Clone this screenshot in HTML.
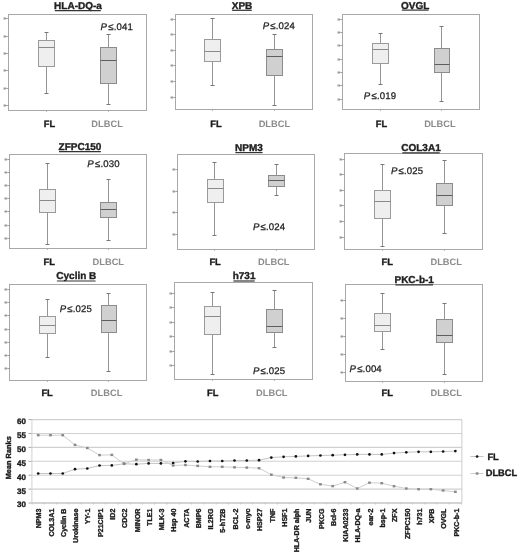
<!DOCTYPE html><html><head><meta charset="utf-8"><style>html,body{margin:0;padding:0;background:#fff;width:520px;height:552px;overflow:hidden}svg{display:block;filter:grayscale(1) blur(0.3px)}text{font-family:"Liberation Sans",sans-serif;text-rendering:geometricPrecision}.h{stroke:#1a1a1a;stroke-width:0.35px}.hg{stroke:#8c8c8c;stroke-width:0.3px}.hp{stroke:#222;stroke-width:0.25px}</style></head><body>
<svg width="520" height="552" viewBox="0 0 520 552">
<rect width="520" height="552" fill="#fff"/>
<rect x="8.5" y="14.5" width="138" height="96" fill="none" stroke="#a8a8a8" stroke-width="1"/>
<line x1="6.3" y1="18.5" x2="8.5" y2="18.5" stroke="#888" stroke-width="0.8"/>
<rect x="3.5" y="17.5" width="2.6" height="2" fill="#9c9c9c"/>
<line x1="6.3" y1="36.5" x2="8.5" y2="36.5" stroke="#888" stroke-width="0.8"/>
<rect x="3.5" y="35.5" width="2.6" height="2" fill="#9c9c9c"/>
<line x1="6.3" y1="53.5" x2="8.5" y2="53.5" stroke="#888" stroke-width="0.8"/>
<rect x="3.5" y="52.5" width="2.6" height="2" fill="#9c9c9c"/>
<line x1="6.3" y1="70.5" x2="8.5" y2="70.5" stroke="#888" stroke-width="0.8"/>
<rect x="3.5" y="69.5" width="2.6" height="2" fill="#9c9c9c"/>
<line x1="6.3" y1="88.5" x2="8.5" y2="88.5" stroke="#888" stroke-width="0.8"/>
<rect x="3.5" y="87.5" width="2.6" height="2" fill="#9c9c9c"/>
<line x1="6.3" y1="105.5" x2="8.5" y2="105.5" stroke="#888" stroke-width="0.8"/>
<rect x="3.5" y="104.5" width="2.6" height="2" fill="#9c9c9c"/>
<text x="78" y="9" font-size="10" font-weight="bold" fill="#222" text-anchor="middle" class="h">HLA-DQ-a</text>
<line x1="54.8" y1="10.7" x2="100.8" y2="10.7" stroke="#333" stroke-width="1.2"/>
<line x1="46.5" y1="32.5" x2="46.5" y2="93.5" stroke="#959595" stroke-width="1"/>
<line x1="44.5" y1="32.5" x2="48.5" y2="32.5" stroke="#777" stroke-width="1"/>
<line x1="44.5" y1="93.5" x2="48.5" y2="93.5" stroke="#777" stroke-width="1"/>
<rect x="38.5" y="40.5" width="16" height="26" fill="#efefef" stroke="#9a9a9a" stroke-width="1"/>
<line x1="38.5" y1="47.5" x2="54.5" y2="47.5" stroke="#8a8a8a" stroke-width="1"/>
<line x1="46.5" y1="110.5" x2="46.5" y2="112" stroke="#aaa" stroke-width="0.8"/>
<line x1="108.5" y1="34.5" x2="108.5" y2="104.5" stroke="#959595" stroke-width="1"/>
<line x1="106.5" y1="34.5" x2="110.5" y2="34.5" stroke="#777" stroke-width="1"/>
<line x1="106.5" y1="104.5" x2="110.5" y2="104.5" stroke="#777" stroke-width="1"/>
<rect x="100.5" y="47.5" width="16" height="36" fill="#d0d0d0" stroke="#8c8c8c" stroke-width="1"/>
<line x1="100.5" y1="60.5" x2="116.5" y2="60.5" stroke="#5e5e5e" stroke-width="1"/>
<line x1="108.5" y1="110.5" x2="108.5" y2="112" stroke="#aaa" stroke-width="0.8"/>
<text x="49.4" y="126.65" font-size="9.3" font-weight="bold" fill="#1a1a1a" text-anchor="middle" class="h">FL</text>
<text x="107.1" y="126.65" font-size="9.3" font-weight="bold" fill="#8c8c8c" text-anchor="middle">DLBCL</text>
<text x="100.6" y="29.75" font-size="9.6" fill="#1a1a1a" letter-spacing="0.15" class="hp"><tspan font-style="italic">P</tspan><tspan dx="1.1">≤</tspan>.041</text>
<rect x="175.5" y="14.5" width="137" height="95" fill="none" stroke="#a8a8a8" stroke-width="1"/>
<line x1="173.3" y1="19.5" x2="175.5" y2="19.5" stroke="#888" stroke-width="0.8"/>
<rect x="170.5" y="18.5" width="2.6" height="2" fill="#9c9c9c"/>
<line x1="173.3" y1="34.5" x2="175.5" y2="34.5" stroke="#888" stroke-width="0.8"/>
<rect x="170.5" y="33.5" width="2.6" height="2" fill="#9c9c9c"/>
<line x1="173.3" y1="50.5" x2="175.5" y2="50.5" stroke="#888" stroke-width="0.8"/>
<rect x="170.5" y="49.5" width="2.6" height="2" fill="#9c9c9c"/>
<line x1="173.3" y1="65.5" x2="175.5" y2="65.5" stroke="#888" stroke-width="0.8"/>
<rect x="170.5" y="64.5" width="2.6" height="2" fill="#9c9c9c"/>
<line x1="173.3" y1="81.5" x2="175.5" y2="81.5" stroke="#888" stroke-width="0.8"/>
<rect x="170.5" y="80.5" width="2.6" height="2" fill="#9c9c9c"/>
<line x1="173.3" y1="97.5" x2="175.5" y2="97.5" stroke="#888" stroke-width="0.8"/>
<rect x="170.5" y="96.5" width="2.6" height="2" fill="#9c9c9c"/>
<text x="242" y="8.8" font-size="10" font-weight="bold" fill="#222" text-anchor="middle" class="h">XPB</text>
<line x1="232.1" y1="10.3" x2="251.8" y2="10.3" stroke="#333" stroke-width="1.2"/>
<line x1="212.5" y1="18.5" x2="212.5" y2="85.5" stroke="#959595" stroke-width="1"/>
<line x1="210.5" y1="18.5" x2="214.5" y2="18.5" stroke="#777" stroke-width="1"/>
<line x1="210.5" y1="85.5" x2="214.5" y2="85.5" stroke="#777" stroke-width="1"/>
<rect x="204.5" y="39.5" width="16" height="22" fill="#efefef" stroke="#9a9a9a" stroke-width="1"/>
<line x1="204.5" y1="51.5" x2="220.5" y2="51.5" stroke="#8a8a8a" stroke-width="1"/>
<line x1="212.5" y1="109.5" x2="212.5" y2="111" stroke="#aaa" stroke-width="0.8"/>
<line x1="274.5" y1="34.5" x2="274.5" y2="105.5" stroke="#959595" stroke-width="1"/>
<line x1="272.5" y1="34.5" x2="276.5" y2="34.5" stroke="#777" stroke-width="1"/>
<line x1="272.5" y1="105.5" x2="276.5" y2="105.5" stroke="#777" stroke-width="1"/>
<rect x="266.5" y="49.5" width="16" height="26" fill="#d0d0d0" stroke="#8c8c8c" stroke-width="1"/>
<line x1="266.5" y1="56.5" x2="282.5" y2="56.5" stroke="#5e5e5e" stroke-width="1"/>
<line x1="274.5" y1="109.5" x2="274.5" y2="111" stroke="#aaa" stroke-width="0.8"/>
<text x="215.9" y="126.65" font-size="9.3" font-weight="bold" fill="#1a1a1a" text-anchor="middle" class="h">FL</text>
<text x="274.4" y="126.65" font-size="9.3" font-weight="bold" fill="#8c8c8c" text-anchor="middle">DLBCL</text>
<text x="262.7" y="29.45" font-size="9.6" fill="#1a1a1a" letter-spacing="0.15" class="hp"><tspan font-style="italic">P</tspan><tspan dx="1.1">≤</tspan>.024</text>
<rect x="342.5" y="14.5" width="137" height="95" fill="none" stroke="#a8a8a8" stroke-width="1"/>
<line x1="340.3" y1="19.5" x2="342.5" y2="19.5" stroke="#888" stroke-width="0.8"/>
<rect x="337.5" y="18.5" width="2.6" height="2" fill="#9c9c9c"/>
<line x1="340.3" y1="32.5" x2="342.5" y2="32.5" stroke="#888" stroke-width="0.8"/>
<rect x="337.5" y="31.5" width="2.6" height="2" fill="#9c9c9c"/>
<line x1="340.3" y1="45.5" x2="342.5" y2="45.5" stroke="#888" stroke-width="0.8"/>
<rect x="337.5" y="44.5" width="2.6" height="2" fill="#9c9c9c"/>
<line x1="340.3" y1="59.5" x2="342.5" y2="59.5" stroke="#888" stroke-width="0.8"/>
<rect x="337.5" y="58.5" width="2.6" height="2" fill="#9c9c9c"/>
<line x1="340.3" y1="72.5" x2="342.5" y2="72.5" stroke="#888" stroke-width="0.8"/>
<rect x="337.5" y="71.5" width="2.6" height="2" fill="#9c9c9c"/>
<line x1="340.3" y1="85.5" x2="342.5" y2="85.5" stroke="#888" stroke-width="0.8"/>
<rect x="337.5" y="84.5" width="2.6" height="2" fill="#9c9c9c"/>
<line x1="340.3" y1="99.5" x2="342.5" y2="99.5" stroke="#888" stroke-width="0.8"/>
<rect x="337.5" y="98.5" width="2.6" height="2" fill="#9c9c9c"/>
<text x="415.2" y="8.6" font-size="10" font-weight="bold" fill="#222" text-anchor="middle" class="h">OVGL</text>
<line x1="401.8" y1="10.1" x2="428.6" y2="10.1" stroke="#333" stroke-width="1.2"/>
<line x1="380.5" y1="33.5" x2="380.5" y2="84.5" stroke="#959595" stroke-width="1"/>
<line x1="378.5" y1="33.5" x2="382.5" y2="33.5" stroke="#777" stroke-width="1"/>
<line x1="378.5" y1="84.5" x2="382.5" y2="84.5" stroke="#777" stroke-width="1"/>
<rect x="372.5" y="43.5" width="16" height="20" fill="#efefef" stroke="#9a9a9a" stroke-width="1"/>
<line x1="372.5" y1="49.5" x2="388.5" y2="49.5" stroke="#8a8a8a" stroke-width="1"/>
<line x1="380.5" y1="109.5" x2="380.5" y2="111" stroke="#aaa" stroke-width="0.8"/>
<line x1="441.5" y1="26.5" x2="441.5" y2="101.5" stroke="#959595" stroke-width="1"/>
<line x1="439.5" y1="26.5" x2="443.5" y2="26.5" stroke="#777" stroke-width="1"/>
<line x1="439.5" y1="101.5" x2="443.5" y2="101.5" stroke="#777" stroke-width="1"/>
<rect x="434.5" y="48.5" width="15" height="24" fill="#d0d0d0" stroke="#8c8c8c" stroke-width="1"/>
<line x1="434.5" y1="64.5" x2="449.5" y2="64.5" stroke="#5e5e5e" stroke-width="1"/>
<line x1="441.5" y1="109.5" x2="441.5" y2="111" stroke="#aaa" stroke-width="0.8"/>
<text x="381.4" y="126.65" font-size="9.3" font-weight="bold" fill="#1a1a1a" text-anchor="middle" class="h">FL</text>
<text x="439.9" y="126.65" font-size="9.3" font-weight="bold" fill="#8c8c8c" text-anchor="middle">DLBCL</text>
<text x="363.8" y="98.75" font-size="9.6" fill="#1a1a1a" letter-spacing="0.15" class="hp"><tspan font-style="italic">P</tspan><tspan dx="1.1">≤</tspan>.019</text>
<rect x="9.5" y="154.5" width="137" height="94" fill="none" stroke="#a8a8a8" stroke-width="1"/>
<line x1="7.3" y1="159.5" x2="9.5" y2="159.5" stroke="#888" stroke-width="0.8"/>
<rect x="4.5" y="158.5" width="2.6" height="2" fill="#9c9c9c"/>
<line x1="7.3" y1="172.5" x2="9.5" y2="172.5" stroke="#888" stroke-width="0.8"/>
<rect x="4.5" y="171.5" width="2.6" height="2" fill="#9c9c9c"/>
<line x1="7.3" y1="185.5" x2="9.5" y2="185.5" stroke="#888" stroke-width="0.8"/>
<rect x="4.5" y="184.5" width="2.6" height="2" fill="#9c9c9c"/>
<line x1="7.3" y1="198.5" x2="9.5" y2="198.5" stroke="#888" stroke-width="0.8"/>
<rect x="4.5" y="197.5" width="2.6" height="2" fill="#9c9c9c"/>
<line x1="7.3" y1="211.5" x2="9.5" y2="211.5" stroke="#888" stroke-width="0.8"/>
<rect x="4.5" y="210.5" width="2.6" height="2" fill="#9c9c9c"/>
<line x1="7.3" y1="225.5" x2="9.5" y2="225.5" stroke="#888" stroke-width="0.8"/>
<rect x="4.5" y="224.5" width="2.6" height="2" fill="#9c9c9c"/>
<line x1="7.3" y1="238.5" x2="9.5" y2="238.5" stroke="#888" stroke-width="0.8"/>
<rect x="4.5" y="237.5" width="2.6" height="2" fill="#9c9c9c"/>
<text x="80" y="149.5" font-size="10" font-weight="bold" fill="#222" text-anchor="middle" class="h">ZFPC150</text>
<line x1="59" y1="151.7" x2="100.9" y2="151.7" stroke="#333" stroke-width="1.2"/>
<line x1="47.5" y1="163.5" x2="47.5" y2="244.5" stroke="#959595" stroke-width="1"/>
<line x1="45.5" y1="163.5" x2="49.5" y2="163.5" stroke="#777" stroke-width="1"/>
<line x1="45.5" y1="244.5" x2="49.5" y2="244.5" stroke="#777" stroke-width="1"/>
<rect x="39.5" y="189.5" width="16" height="23" fill="#efefef" stroke="#9a9a9a" stroke-width="1"/>
<line x1="39.5" y1="200.5" x2="55.5" y2="200.5" stroke="#8a8a8a" stroke-width="1"/>
<line x1="47.5" y1="248.5" x2="47.5" y2="250" stroke="#aaa" stroke-width="0.8"/>
<line x1="108.5" y1="179.5" x2="108.5" y2="240.5" stroke="#959595" stroke-width="1"/>
<line x1="106.5" y1="179.5" x2="110.5" y2="179.5" stroke="#777" stroke-width="1"/>
<line x1="106.5" y1="240.5" x2="110.5" y2="240.5" stroke="#777" stroke-width="1"/>
<rect x="100.5" y="202.5" width="16" height="15" fill="#d0d0d0" stroke="#8c8c8c" stroke-width="1"/>
<line x1="100.5" y1="209.5" x2="116.5" y2="209.5" stroke="#5e5e5e" stroke-width="1"/>
<line x1="108.5" y1="248.5" x2="108.5" y2="250" stroke="#aaa" stroke-width="0.8"/>
<text x="49.3" y="264.65" font-size="9.3" font-weight="bold" fill="#1a1a1a" text-anchor="middle" class="h">FL</text>
<text x="108.3" y="264.65" font-size="9.3" font-weight="bold" fill="#8c8c8c" text-anchor="middle">DLBCL</text>
<text x="87.3" y="167.15" font-size="9.6" fill="#1a1a1a" letter-spacing="0.15" class="hp"><tspan font-style="italic">P</tspan><tspan dx="1.1">≤</tspan>.030</text>
<rect x="177.5" y="154.5" width="137" height="95" fill="none" stroke="#a8a8a8" stroke-width="1"/>
<line x1="175.3" y1="169.5" x2="177.5" y2="169.5" stroke="#888" stroke-width="0.8"/>
<rect x="172.5" y="168.5" width="2.6" height="2" fill="#9c9c9c"/>
<line x1="175.3" y1="191.5" x2="177.5" y2="191.5" stroke="#888" stroke-width="0.8"/>
<rect x="172.5" y="190.5" width="2.6" height="2" fill="#9c9c9c"/>
<line x1="175.3" y1="212.5" x2="177.5" y2="212.5" stroke="#888" stroke-width="0.8"/>
<rect x="172.5" y="211.5" width="2.6" height="2" fill="#9c9c9c"/>
<line x1="175.3" y1="234.5" x2="177.5" y2="234.5" stroke="#888" stroke-width="0.8"/>
<rect x="172.5" y="233.5" width="2.6" height="2" fill="#9c9c9c"/>
<text x="249" y="150.5" font-size="10" font-weight="bold" fill="#222" text-anchor="middle" class="h">NPM3</text>
<line x1="235.4" y1="152.6" x2="262.6" y2="152.6" stroke="#333" stroke-width="1.2"/>
<line x1="214.5" y1="162.5" x2="214.5" y2="235.5" stroke="#959595" stroke-width="1"/>
<line x1="212.5" y1="162.5" x2="216.5" y2="162.5" stroke="#777" stroke-width="1"/>
<line x1="212.5" y1="235.5" x2="216.5" y2="235.5" stroke="#777" stroke-width="1"/>
<rect x="207.5" y="179.5" width="16" height="23" fill="#efefef" stroke="#9a9a9a" stroke-width="1"/>
<line x1="207.5" y1="188.5" x2="223.5" y2="188.5" stroke="#8a8a8a" stroke-width="1"/>
<line x1="214.5" y1="249.5" x2="214.5" y2="251" stroke="#aaa" stroke-width="0.8"/>
<line x1="276.5" y1="164.5" x2="276.5" y2="195.5" stroke="#959595" stroke-width="1"/>
<line x1="274.5" y1="164.5" x2="278.5" y2="164.5" stroke="#777" stroke-width="1"/>
<line x1="274.5" y1="195.5" x2="278.5" y2="195.5" stroke="#777" stroke-width="1"/>
<rect x="268.5" y="175.5" width="16" height="11" fill="#d0d0d0" stroke="#8c8c8c" stroke-width="1"/>
<line x1="268.5" y1="180.5" x2="284.5" y2="180.5" stroke="#5e5e5e" stroke-width="1"/>
<line x1="276.5" y1="249.5" x2="276.5" y2="251" stroke="#aaa" stroke-width="0.8"/>
<text x="215.1" y="264.65" font-size="9.3" font-weight="bold" fill="#1a1a1a" text-anchor="middle" class="h">FL</text>
<text x="273.8" y="264.65" font-size="9.3" font-weight="bold" fill="#8c8c8c" text-anchor="middle">DLBCL</text>
<text x="252.9" y="229.85" font-size="9.6" fill="#1a1a1a" letter-spacing="0.15" class="hp"><tspan font-style="italic">P</tspan><tspan dx="1.1">≤</tspan>.024</text>
<rect x="344.5" y="153.5" width="138" height="96" fill="none" stroke="#a8a8a8" stroke-width="1"/>
<line x1="342.3" y1="159.5" x2="344.5" y2="159.5" stroke="#888" stroke-width="0.8"/>
<rect x="339.5" y="158.5" width="2.6" height="2" fill="#9c9c9c"/>
<line x1="342.3" y1="174.5" x2="344.5" y2="174.5" stroke="#888" stroke-width="0.8"/>
<rect x="339.5" y="173.5" width="2.6" height="2" fill="#9c9c9c"/>
<line x1="342.3" y1="190.5" x2="344.5" y2="190.5" stroke="#888" stroke-width="0.8"/>
<rect x="339.5" y="189.5" width="2.6" height="2" fill="#9c9c9c"/>
<line x1="342.3" y1="205.5" x2="344.5" y2="205.5" stroke="#888" stroke-width="0.8"/>
<rect x="339.5" y="204.5" width="2.6" height="2" fill="#9c9c9c"/>
<line x1="342.3" y1="221.5" x2="344.5" y2="221.5" stroke="#888" stroke-width="0.8"/>
<rect x="339.5" y="220.5" width="2.6" height="2" fill="#9c9c9c"/>
<line x1="342.3" y1="237.5" x2="344.5" y2="237.5" stroke="#888" stroke-width="0.8"/>
<rect x="339.5" y="236.5" width="2.6" height="2" fill="#9c9c9c"/>
<text x="421" y="150.7" font-size="10" font-weight="bold" fill="#222" text-anchor="middle" class="h">COL3A1</text>
<line x1="402.3" y1="152.9" x2="439.7" y2="152.9" stroke="#333" stroke-width="1.2"/>
<line x1="382.5" y1="164.5" x2="382.5" y2="246.5" stroke="#959595" stroke-width="1"/>
<line x1="380.5" y1="164.5" x2="384.5" y2="164.5" stroke="#777" stroke-width="1"/>
<line x1="380.5" y1="246.5" x2="384.5" y2="246.5" stroke="#777" stroke-width="1"/>
<rect x="374.5" y="190.5" width="16" height="28" fill="#efefef" stroke="#9a9a9a" stroke-width="1"/>
<line x1="374.5" y1="201.5" x2="390.5" y2="201.5" stroke="#8a8a8a" stroke-width="1"/>
<line x1="382.5" y1="249.5" x2="382.5" y2="251" stroke="#aaa" stroke-width="0.8"/>
<line x1="444.5" y1="160.5" x2="444.5" y2="233.5" stroke="#959595" stroke-width="1"/>
<line x1="442.5" y1="160.5" x2="446.5" y2="160.5" stroke="#777" stroke-width="1"/>
<line x1="442.5" y1="233.5" x2="446.5" y2="233.5" stroke="#777" stroke-width="1"/>
<rect x="436.5" y="183.5" width="16" height="22" fill="#d0d0d0" stroke="#8c8c8c" stroke-width="1"/>
<line x1="436.5" y1="195.5" x2="452.5" y2="195.5" stroke="#5e5e5e" stroke-width="1"/>
<line x1="444.5" y1="249.5" x2="444.5" y2="251" stroke="#aaa" stroke-width="0.8"/>
<text x="387.3" y="264.65" font-size="9.3" font-weight="bold" fill="#1a1a1a" text-anchor="middle" class="h">FL</text>
<text x="446.2" y="264.65" font-size="9.3" font-weight="bold" fill="#8c8c8c" text-anchor="middle">DLBCL</text>
<text x="390.9" y="174.15" font-size="9.6" fill="#1a1a1a" letter-spacing="0.15" class="hp"><tspan font-style="italic">P</tspan><tspan dx="1.1">≤</tspan>.025</text>
<rect x="9.5" y="284.5" width="137" height="96" fill="none" stroke="#a8a8a8" stroke-width="1"/>
<line x1="7.3" y1="289.5" x2="9.5" y2="289.5" stroke="#888" stroke-width="0.8"/>
<rect x="4.5" y="288.5" width="2.6" height="2" fill="#9c9c9c"/>
<line x1="7.3" y1="302.5" x2="9.5" y2="302.5" stroke="#888" stroke-width="0.8"/>
<rect x="4.5" y="301.5" width="2.6" height="2" fill="#9c9c9c"/>
<line x1="7.3" y1="315.5" x2="9.5" y2="315.5" stroke="#888" stroke-width="0.8"/>
<rect x="4.5" y="314.5" width="2.6" height="2" fill="#9c9c9c"/>
<line x1="7.3" y1="329.5" x2="9.5" y2="329.5" stroke="#888" stroke-width="0.8"/>
<rect x="4.5" y="328.5" width="2.6" height="2" fill="#9c9c9c"/>
<line x1="7.3" y1="342.5" x2="9.5" y2="342.5" stroke="#888" stroke-width="0.8"/>
<rect x="4.5" y="341.5" width="2.6" height="2" fill="#9c9c9c"/>
<line x1="7.3" y1="355.5" x2="9.5" y2="355.5" stroke="#888" stroke-width="0.8"/>
<rect x="4.5" y="354.5" width="2.6" height="2" fill="#9c9c9c"/>
<line x1="7.3" y1="368.5" x2="9.5" y2="368.5" stroke="#888" stroke-width="0.8"/>
<rect x="4.5" y="367.5" width="2.6" height="2" fill="#9c9c9c"/>
<text x="76.3" y="278.6" font-size="10" font-weight="bold" fill="#222" text-anchor="middle" class="h">Cyclin B</text>
<line x1="56.9" y1="281" x2="95.6" y2="281" stroke="#333" stroke-width="1.2"/>
<line x1="47.5" y1="299.5" x2="47.5" y2="357.5" stroke="#959595" stroke-width="1"/>
<line x1="45.5" y1="299.5" x2="49.5" y2="299.5" stroke="#777" stroke-width="1"/>
<line x1="45.5" y1="357.5" x2="49.5" y2="357.5" stroke="#777" stroke-width="1"/>
<rect x="39.5" y="316.5" width="16" height="17" fill="#efefef" stroke="#9a9a9a" stroke-width="1"/>
<line x1="39.5" y1="325.5" x2="55.5" y2="325.5" stroke="#8a8a8a" stroke-width="1"/>
<line x1="47.5" y1="380.5" x2="47.5" y2="382" stroke="#aaa" stroke-width="0.8"/>
<line x1="108.5" y1="293.5" x2="108.5" y2="371.5" stroke="#959595" stroke-width="1"/>
<line x1="106.5" y1="293.5" x2="110.5" y2="293.5" stroke="#777" stroke-width="1"/>
<line x1="106.5" y1="371.5" x2="110.5" y2="371.5" stroke="#777" stroke-width="1"/>
<rect x="101.5" y="305.5" width="15" height="27" fill="#d0d0d0" stroke="#8c8c8c" stroke-width="1"/>
<line x1="101.5" y1="320.5" x2="116.5" y2="320.5" stroke="#5e5e5e" stroke-width="1"/>
<line x1="108.5" y1="380.5" x2="108.5" y2="382" stroke="#aaa" stroke-width="0.8"/>
<text x="47.1" y="395.95" font-size="9.3" font-weight="bold" fill="#1a1a1a" text-anchor="middle" class="h">FL</text>
<text x="106.6" y="395.95" font-size="9.3" font-weight="bold" fill="#8c8c8c" text-anchor="middle">DLBCL</text>
<text x="59.7" y="312.15" font-size="9.6" fill="#1a1a1a" letter-spacing="0.15" class="hp"><tspan font-style="italic">P</tspan><tspan dx="1.1">≤</tspan>.025</text>
<rect x="174.5" y="282.5" width="138" height="97" fill="none" stroke="#a8a8a8" stroke-width="1"/>
<line x1="172.3" y1="293.5" x2="174.5" y2="293.5" stroke="#888" stroke-width="0.8"/>
<rect x="169.5" y="292.5" width="2.6" height="2" fill="#9c9c9c"/>
<line x1="172.3" y1="307.5" x2="174.5" y2="307.5" stroke="#888" stroke-width="0.8"/>
<rect x="169.5" y="306.5" width="2.6" height="2" fill="#9c9c9c"/>
<line x1="172.3" y1="322.5" x2="174.5" y2="322.5" stroke="#888" stroke-width="0.8"/>
<rect x="169.5" y="321.5" width="2.6" height="2" fill="#9c9c9c"/>
<line x1="172.3" y1="336.5" x2="174.5" y2="336.5" stroke="#888" stroke-width="0.8"/>
<rect x="169.5" y="335.5" width="2.6" height="2" fill="#9c9c9c"/>
<line x1="172.3" y1="351.5" x2="174.5" y2="351.5" stroke="#888" stroke-width="0.8"/>
<rect x="169.5" y="350.5" width="2.6" height="2" fill="#9c9c9c"/>
<line x1="172.3" y1="365.5" x2="174.5" y2="365.5" stroke="#888" stroke-width="0.8"/>
<rect x="169.5" y="364.5" width="2.6" height="2" fill="#9c9c9c"/>
<text x="244.1" y="278.7" font-size="10" font-weight="bold" fill="#222" text-anchor="middle" class="h">h731</text>
<line x1="233.4" y1="281" x2="254.7" y2="281" stroke="#333" stroke-width="1.2"/>
<line x1="212.5" y1="292.5" x2="212.5" y2="374.5" stroke="#959595" stroke-width="1"/>
<line x1="210.5" y1="292.5" x2="214.5" y2="292.5" stroke="#777" stroke-width="1"/>
<line x1="210.5" y1="374.5" x2="214.5" y2="374.5" stroke="#777" stroke-width="1"/>
<rect x="204.5" y="306.5" width="16" height="28" fill="#efefef" stroke="#9a9a9a" stroke-width="1"/>
<line x1="204.5" y1="316.5" x2="220.5" y2="316.5" stroke="#8a8a8a" stroke-width="1"/>
<line x1="212.5" y1="379.5" x2="212.5" y2="381" stroke="#aaa" stroke-width="0.8"/>
<line x1="274.5" y1="290.5" x2="274.5" y2="347.5" stroke="#959595" stroke-width="1"/>
<line x1="272.5" y1="290.5" x2="276.5" y2="290.5" stroke="#777" stroke-width="1"/>
<line x1="272.5" y1="347.5" x2="276.5" y2="347.5" stroke="#777" stroke-width="1"/>
<rect x="266.5" y="309.5" width="16" height="23" fill="#d0d0d0" stroke="#8c8c8c" stroke-width="1"/>
<line x1="266.5" y1="326.5" x2="282.5" y2="326.5" stroke="#5e5e5e" stroke-width="1"/>
<line x1="274.5" y1="379.5" x2="274.5" y2="381" stroke="#aaa" stroke-width="0.8"/>
<text x="212.7" y="395.95" font-size="9.3" font-weight="bold" fill="#1a1a1a" text-anchor="middle" class="h">FL</text>
<text x="271.8" y="395.95" font-size="9.3" font-weight="bold" fill="#8c8c8c" text-anchor="middle">DLBCL</text>
<text x="252.9" y="374.35" font-size="9.6" fill="#1a1a1a" letter-spacing="0.15" class="hp"><tspan font-style="italic">P</tspan><tspan dx="1.1">≤</tspan>.025</text>
<rect x="345.5" y="284.5" width="137" height="97" fill="none" stroke="#a8a8a8" stroke-width="1"/>
<line x1="343.3" y1="300.5" x2="345.5" y2="300.5" stroke="#888" stroke-width="0.8"/>
<rect x="340.5" y="299.5" width="2.6" height="2" fill="#9c9c9c"/>
<line x1="343.3" y1="318.5" x2="345.5" y2="318.5" stroke="#888" stroke-width="0.8"/>
<rect x="340.5" y="317.5" width="2.6" height="2" fill="#9c9c9c"/>
<line x1="343.3" y1="336.5" x2="345.5" y2="336.5" stroke="#888" stroke-width="0.8"/>
<rect x="340.5" y="335.5" width="2.6" height="2" fill="#9c9c9c"/>
<line x1="343.3" y1="354.5" x2="345.5" y2="354.5" stroke="#888" stroke-width="0.8"/>
<rect x="340.5" y="353.5" width="2.6" height="2" fill="#9c9c9c"/>
<line x1="343.3" y1="372.5" x2="345.5" y2="372.5" stroke="#888" stroke-width="0.8"/>
<rect x="340.5" y="371.5" width="2.6" height="2" fill="#9c9c9c"/>
<text x="414.2" y="282.5" font-size="10" font-weight="bold" fill="#222" text-anchor="middle" class="h">PKC-b-1</text>
<line x1="395.4" y1="284.8" x2="433" y2="284.8" stroke="#333" stroke-width="1.2"/>
<line x1="382.5" y1="293.5" x2="382.5" y2="349.5" stroke="#959595" stroke-width="1"/>
<line x1="380.5" y1="293.5" x2="384.5" y2="293.5" stroke="#777" stroke-width="1"/>
<line x1="380.5" y1="349.5" x2="384.5" y2="349.5" stroke="#777" stroke-width="1"/>
<rect x="374.5" y="313.5" width="16" height="18" fill="#efefef" stroke="#9a9a9a" stroke-width="1"/>
<line x1="374.5" y1="325.5" x2="390.5" y2="325.5" stroke="#8a8a8a" stroke-width="1"/>
<line x1="382.5" y1="381.5" x2="382.5" y2="383" stroke="#aaa" stroke-width="0.8"/>
<line x1="444.5" y1="303.5" x2="444.5" y2="374.5" stroke="#959595" stroke-width="1"/>
<line x1="442.5" y1="303.5" x2="446.5" y2="303.5" stroke="#777" stroke-width="1"/>
<line x1="442.5" y1="374.5" x2="446.5" y2="374.5" stroke="#777" stroke-width="1"/>
<rect x="436.5" y="319.5" width="16" height="23" fill="#d0d0d0" stroke="#8c8c8c" stroke-width="1"/>
<line x1="436.5" y1="335.5" x2="452.5" y2="335.5" stroke="#5e5e5e" stroke-width="1"/>
<line x1="444.5" y1="381.5" x2="444.5" y2="383" stroke="#aaa" stroke-width="0.8"/>
<text x="387.3" y="395.95" font-size="9.3" font-weight="bold" fill="#1a1a1a" text-anchor="middle" class="h">FL</text>
<text x="446.2" y="395.95" font-size="9.3" font-weight="bold" fill="#8c8c8c" text-anchor="middle">DLBCL</text>
<text x="349.5" y="371.85" font-size="9.6" fill="#1a1a1a" letter-spacing="0.15" class="hp"><tspan font-style="italic">P</tspan><tspan dx="1.1">≤</tspan>.004</text>
<line x1="31.9" y1="503" x2="461.9" y2="503" stroke="#aaa" stroke-width="1.1"/>
<line x1="28.4" y1="503" x2="31.9" y2="503" stroke="#aaa" stroke-width="1"/>
<text x="26" y="507.4" font-size="8" font-weight="bold" fill="#1a1a1a" text-anchor="end" class="h">30</text>
<line x1="31.9" y1="489.1" x2="461.9" y2="489.1" stroke="#d0d0d0" stroke-width="1.1"/>
<line x1="28.4" y1="489.1" x2="31.9" y2="489.1" stroke="#aaa" stroke-width="1"/>
<text x="26" y="493.5" font-size="8" font-weight="bold" fill="#1a1a1a" text-anchor="end" class="h">35</text>
<line x1="31.9" y1="475.2" x2="461.9" y2="475.2" stroke="#d0d0d0" stroke-width="1.1"/>
<line x1="28.4" y1="475.2" x2="31.9" y2="475.2" stroke="#aaa" stroke-width="1"/>
<text x="26" y="479.6" font-size="8" font-weight="bold" fill="#1a1a1a" text-anchor="end" class="h">40</text>
<line x1="31.9" y1="461.3" x2="461.9" y2="461.3" stroke="#d0d0d0" stroke-width="1.1"/>
<line x1="28.4" y1="461.3" x2="31.9" y2="461.3" stroke="#aaa" stroke-width="1"/>
<text x="26" y="465.7" font-size="8" font-weight="bold" fill="#1a1a1a" text-anchor="end" class="h">45</text>
<line x1="31.9" y1="447.4" x2="461.9" y2="447.4" stroke="#d0d0d0" stroke-width="1.1"/>
<line x1="28.4" y1="447.4" x2="31.9" y2="447.4" stroke="#aaa" stroke-width="1"/>
<text x="26" y="451.8" font-size="8" font-weight="bold" fill="#1a1a1a" text-anchor="end" class="h">50</text>
<line x1="31.9" y1="433.5" x2="461.9" y2="433.5" stroke="#d0d0d0" stroke-width="1.1"/>
<line x1="28.4" y1="433.5" x2="31.9" y2="433.5" stroke="#aaa" stroke-width="1"/>
<text x="26" y="437.9" font-size="8" font-weight="bold" fill="#1a1a1a" text-anchor="end" class="h">55</text>
<line x1="31.9" y1="419.6" x2="461.9" y2="419.6" stroke="#d0d0d0" stroke-width="1.1"/>
<line x1="28.4" y1="419.6" x2="31.9" y2="419.6" stroke="#aaa" stroke-width="1"/>
<text x="26" y="424" font-size="8" font-weight="bold" fill="#1a1a1a" text-anchor="end" class="h">60</text>
<line x1="31.9" y1="419.6" x2="31.9" y2="503" stroke="#d2d2d2" stroke-width="1"/>
<line x1="461.9" y1="419.6" x2="461.9" y2="503" stroke="#ccc" stroke-width="1"/>
<text transform="translate(10.7,457.8) rotate(-90)" font-size="7.4" font-weight="bold" fill="#1a1a1a" text-anchor="middle" class="h">Mean Ranks</text>
<polyline points="38.2,473.5 50.47,473.5 62.74,473.5 75.01,469.2 87.28,468.5 99.55,465.5 111.82,465.4 124.09,463.8 136.36,464.2 148.63,463.4 160.9,463.4 173.17,463 185.44,461.3 197.71,461.5 209.98,461 222.25,461 234.52,460.5 246.79,460.5 259.06,460.2 271.33,457.6 283.6,456.8 295.87,456.4 308.14,455.9 320.41,455.5 332.68,455.2 344.95,454.8 357.22,454.4 369.49,454.4 381.76,454.4 394.03,453.1 406.3,452.3 418.57,451.8 430.84,451.8 443.11,451.5 455.38,451.1" fill="none" stroke="#c4c4c4" stroke-width="1"/>
<polyline points="38.2,435.2 50.47,435.2 62.74,435.2 75.01,444.9 87.28,448 99.55,455.1 111.82,454.9 124.09,463.8 136.36,459.7 148.63,460 160.9,460 173.17,465.5 185.44,465 197.71,465.9 209.98,466.8 222.25,466.8 234.52,467.3 246.79,467.6 259.06,468.2 271.33,474.7 283.6,477.5 295.87,477.8 308.14,478.8 320.41,484.3 332.68,486.1 344.95,482.2 357.22,488.5 369.49,482.7 381.76,483.2 394.03,486.2 406.3,488.5 418.57,489.2 430.84,489.2 443.11,490.5 455.38,491.8" fill="none" stroke="#cfcfcf" stroke-width="1"/>
<circle cx="38.2" cy="473.5" r="1.35" fill="#111"/>
<circle cx="50.47" cy="473.5" r="1.35" fill="#111"/>
<circle cx="62.74" cy="473.5" r="1.35" fill="#111"/>
<circle cx="75.01" cy="469.2" r="1.35" fill="#111"/>
<circle cx="87.28" cy="468.5" r="1.35" fill="#111"/>
<circle cx="99.55" cy="465.5" r="1.35" fill="#111"/>
<circle cx="111.82" cy="465.4" r="1.35" fill="#111"/>
<circle cx="124.09" cy="463.8" r="1.35" fill="#111"/>
<circle cx="136.36" cy="464.2" r="1.35" fill="#111"/>
<circle cx="148.63" cy="463.4" r="1.35" fill="#111"/>
<circle cx="160.9" cy="463.4" r="1.35" fill="#111"/>
<circle cx="173.17" cy="463" r="1.35" fill="#111"/>
<circle cx="185.44" cy="461.3" r="1.35" fill="#111"/>
<circle cx="197.71" cy="461.5" r="1.35" fill="#111"/>
<circle cx="209.98" cy="461" r="1.35" fill="#111"/>
<circle cx="222.25" cy="461" r="1.35" fill="#111"/>
<circle cx="234.52" cy="460.5" r="1.35" fill="#111"/>
<circle cx="246.79" cy="460.5" r="1.35" fill="#111"/>
<circle cx="259.06" cy="460.2" r="1.35" fill="#111"/>
<circle cx="271.33" cy="457.6" r="1.35" fill="#111"/>
<circle cx="283.6" cy="456.8" r="1.35" fill="#111"/>
<circle cx="295.87" cy="456.4" r="1.35" fill="#111"/>
<circle cx="308.14" cy="455.9" r="1.35" fill="#111"/>
<circle cx="320.41" cy="455.5" r="1.35" fill="#111"/>
<circle cx="332.68" cy="455.2" r="1.35" fill="#111"/>
<circle cx="344.95" cy="454.8" r="1.35" fill="#111"/>
<circle cx="357.22" cy="454.4" r="1.35" fill="#111"/>
<circle cx="369.49" cy="454.4" r="1.35" fill="#111"/>
<circle cx="381.76" cy="454.4" r="1.35" fill="#111"/>
<circle cx="394.03" cy="453.1" r="1.35" fill="#111"/>
<circle cx="406.3" cy="452.3" r="1.35" fill="#111"/>
<circle cx="418.57" cy="451.8" r="1.35" fill="#111"/>
<circle cx="430.84" cy="451.8" r="1.35" fill="#111"/>
<circle cx="443.11" cy="451.5" r="1.35" fill="#111"/>
<circle cx="455.38" cy="451.1" r="1.35" fill="#111"/>
<rect x="36.85" y="434" width="2.7" height="2.4" fill="#8a8a8a"/>
<rect x="49.12" y="434" width="2.7" height="2.4" fill="#8a8a8a"/>
<rect x="61.39" y="434" width="2.7" height="2.4" fill="#8a8a8a"/>
<rect x="73.66" y="443.7" width="2.7" height="2.4" fill="#8a8a8a"/>
<rect x="85.93" y="446.8" width="2.7" height="2.4" fill="#8a8a8a"/>
<rect x="98.2" y="453.9" width="2.7" height="2.4" fill="#8a8a8a"/>
<rect x="110.47" y="453.7" width="2.7" height="2.4" fill="#8a8a8a"/>
<rect x="122.74" y="462.6" width="2.7" height="2.4" fill="#8a8a8a"/>
<rect x="135.01" y="458.5" width="2.7" height="2.4" fill="#8a8a8a"/>
<rect x="147.28" y="458.8" width="2.7" height="2.4" fill="#8a8a8a"/>
<rect x="159.55" y="458.8" width="2.7" height="2.4" fill="#8a8a8a"/>
<rect x="171.82" y="464.3" width="2.7" height="2.4" fill="#8a8a8a"/>
<rect x="184.09" y="463.8" width="2.7" height="2.4" fill="#8a8a8a"/>
<rect x="196.36" y="464.7" width="2.7" height="2.4" fill="#8a8a8a"/>
<rect x="208.63" y="465.6" width="2.7" height="2.4" fill="#8a8a8a"/>
<rect x="220.9" y="465.6" width="2.7" height="2.4" fill="#8a8a8a"/>
<rect x="233.17" y="466.1" width="2.7" height="2.4" fill="#8a8a8a"/>
<rect x="245.44" y="466.4" width="2.7" height="2.4" fill="#8a8a8a"/>
<rect x="257.71" y="467" width="2.7" height="2.4" fill="#8a8a8a"/>
<rect x="269.98" y="473.5" width="2.7" height="2.4" fill="#8a8a8a"/>
<rect x="282.25" y="476.3" width="2.7" height="2.4" fill="#8a8a8a"/>
<rect x="294.52" y="476.6" width="2.7" height="2.4" fill="#8a8a8a"/>
<rect x="306.79" y="477.6" width="2.7" height="2.4" fill="#8a8a8a"/>
<rect x="319.06" y="483.1" width="2.7" height="2.4" fill="#8a8a8a"/>
<rect x="331.33" y="484.9" width="2.7" height="2.4" fill="#8a8a8a"/>
<rect x="343.6" y="481" width="2.7" height="2.4" fill="#8a8a8a"/>
<rect x="355.87" y="487.3" width="2.7" height="2.4" fill="#8a8a8a"/>
<rect x="368.14" y="481.5" width="2.7" height="2.4" fill="#8a8a8a"/>
<rect x="380.41" y="482" width="2.7" height="2.4" fill="#8a8a8a"/>
<rect x="392.68" y="485" width="2.7" height="2.4" fill="#8a8a8a"/>
<rect x="404.95" y="487.3" width="2.7" height="2.4" fill="#8a8a8a"/>
<rect x="417.22" y="488" width="2.7" height="2.4" fill="#8a8a8a"/>
<rect x="429.49" y="488" width="2.7" height="2.4" fill="#8a8a8a"/>
<rect x="441.76" y="489.3" width="2.7" height="2.4" fill="#8a8a8a"/>
<rect x="454.03" y="490.6" width="2.7" height="2.4" fill="#8a8a8a"/>
<text transform="translate(41.4,508.6) rotate(-90)" font-size="7.1" font-weight="bold" fill="#1a1a1a" text-anchor="end" class="h">NPM3</text>
<text transform="translate(53.67,508.6) rotate(-90)" font-size="7.1" font-weight="bold" fill="#1a1a1a" text-anchor="end" class="h">COL3A1</text>
<text transform="translate(65.94,508.6) rotate(-90)" font-size="7.1" font-weight="bold" fill="#1a1a1a" text-anchor="end" class="h">Cyclin B</text>
<text transform="translate(78.21,508.6) rotate(-90)" font-size="7.1" font-weight="bold" fill="#1a1a1a" text-anchor="end" class="h">Urokinase</text>
<text transform="translate(90.48,508.6) rotate(-90)" font-size="7.1" font-weight="bold" fill="#1a1a1a" text-anchor="end" class="h">YY-1</text>
<text transform="translate(102.75,508.6) rotate(-90)" font-size="7.1" font-weight="bold" fill="#1a1a1a" text-anchor="end" class="h">P21CIP1</text>
<text transform="translate(115.02,508.6) rotate(-90)" font-size="7.1" font-weight="bold" fill="#1a1a1a" text-anchor="end" class="h">ID2</text>
<text transform="translate(127.29,508.6) rotate(-90)" font-size="7.1" font-weight="bold" fill="#1a1a1a" text-anchor="end" class="h">CDC2</text>
<text transform="translate(139.56,508.6) rotate(-90)" font-size="7.1" font-weight="bold" fill="#1a1a1a" text-anchor="end" class="h">MINOR</text>
<text transform="translate(151.83,508.6) rotate(-90)" font-size="7.1" font-weight="bold" fill="#1a1a1a" text-anchor="end" class="h">TLE1</text>
<text transform="translate(164.1,508.6) rotate(-90)" font-size="7.1" font-weight="bold" fill="#1a1a1a" text-anchor="end" class="h">MLK-3</text>
<text transform="translate(176.37,508.6) rotate(-90)" font-size="7.1" font-weight="bold" fill="#1a1a1a" text-anchor="end" class="h">Hsp 40</text>
<text transform="translate(188.64,508.6) rotate(-90)" font-size="7.1" font-weight="bold" fill="#1a1a1a" text-anchor="end" class="h">ACTA</text>
<text transform="translate(200.91,508.6) rotate(-90)" font-size="7.1" font-weight="bold" fill="#1a1a1a" text-anchor="end" class="h">BMP6</text>
<text transform="translate(213.18,508.6) rotate(-90)" font-size="7.1" font-weight="bold" fill="#1a1a1a" text-anchor="end" class="h">IL2RG</text>
<text transform="translate(225.45,508.6) rotate(-90)" font-size="7.1" font-weight="bold" fill="#1a1a1a" text-anchor="end" class="h">5-hT2B</text>
<text transform="translate(237.72,508.6) rotate(-90)" font-size="7.1" font-weight="bold" fill="#1a1a1a" text-anchor="end" class="h">BCL-2</text>
<text transform="translate(249.99,508.6) rotate(-90)" font-size="7.1" font-weight="bold" fill="#1a1a1a" text-anchor="end" class="h">c-myc</text>
<text transform="translate(262.26,508.6) rotate(-90)" font-size="7.1" font-weight="bold" fill="#1a1a1a" text-anchor="end" class="h">HSP27</text>
<text transform="translate(274.53,508.6) rotate(-90)" font-size="7.1" font-weight="bold" fill="#1a1a1a" text-anchor="end" class="h">TNF</text>
<text transform="translate(286.8,508.6) rotate(-90)" font-size="7.1" font-weight="bold" fill="#1a1a1a" text-anchor="end" class="h">HSF1</text>
<text transform="translate(299.07,508.6) rotate(-90)" font-size="7.1" font-weight="bold" fill="#1a1a1a" text-anchor="end" class="h">HLA-DR alph</text>
<text transform="translate(311.34,508.6) rotate(-90)" font-size="7.1" font-weight="bold" fill="#1a1a1a" text-anchor="end" class="h">JUN</text>
<text transform="translate(323.61,508.6) rotate(-90)" font-size="7.1" font-weight="bold" fill="#1a1a1a" text-anchor="end" class="h">PKCG</text>
<text transform="translate(335.88,508.6) rotate(-90)" font-size="7.1" font-weight="bold" fill="#1a1a1a" text-anchor="end" class="h">Bcl-6</text>
<text transform="translate(348.15,508.6) rotate(-90)" font-size="7.1" font-weight="bold" fill="#1a1a1a" text-anchor="end" class="h">KIAA0233</text>
<text transform="translate(360.42,508.6) rotate(-90)" font-size="7.1" font-weight="bold" fill="#1a1a1a" text-anchor="end" class="h">HLA-DQ-a</text>
<text transform="translate(372.69,508.6) rotate(-90)" font-size="7.1" font-weight="bold" fill="#1a1a1a" text-anchor="end" class="h">ear-2</text>
<text transform="translate(384.96,508.6) rotate(-90)" font-size="7.1" font-weight="bold" fill="#1a1a1a" text-anchor="end" class="h">bsp-1</text>
<text transform="translate(397.23,508.6) rotate(-90)" font-size="7.1" font-weight="bold" fill="#1a1a1a" text-anchor="end" class="h">ZFX</text>
<text transform="translate(409.5,508.6) rotate(-90)" font-size="7.1" font-weight="bold" fill="#1a1a1a" text-anchor="end" class="h">ZFPC150</text>
<text transform="translate(421.77,508.6) rotate(-90)" font-size="7.1" font-weight="bold" fill="#1a1a1a" text-anchor="end" class="h">h731</text>
<text transform="translate(434.04,508.6) rotate(-90)" font-size="7.1" font-weight="bold" fill="#1a1a1a" text-anchor="end" class="h">XPB</text>
<text transform="translate(446.31,508.6) rotate(-90)" font-size="7.1" font-weight="bold" fill="#1a1a1a" text-anchor="end" class="h">OVGL</text>
<text transform="translate(458.58,508.6) rotate(-90)" font-size="7.1" font-weight="bold" fill="#1a1a1a" text-anchor="end" class="h">PKC-b-1</text>
<line x1="32.07" y1="503" x2="32.07" y2="504.5" stroke="#bbb" stroke-width="0.8"/>
<line x1="44.34" y1="503" x2="44.34" y2="504.5" stroke="#bbb" stroke-width="0.8"/>
<line x1="56.61" y1="503" x2="56.61" y2="504.5" stroke="#bbb" stroke-width="0.8"/>
<line x1="68.88" y1="503" x2="68.88" y2="504.5" stroke="#bbb" stroke-width="0.8"/>
<line x1="81.15" y1="503" x2="81.15" y2="504.5" stroke="#bbb" stroke-width="0.8"/>
<line x1="93.41" y1="503" x2="93.41" y2="504.5" stroke="#bbb" stroke-width="0.8"/>
<line x1="105.69" y1="503" x2="105.69" y2="504.5" stroke="#bbb" stroke-width="0.8"/>
<line x1="117.96" y1="503" x2="117.96" y2="504.5" stroke="#bbb" stroke-width="0.8"/>
<line x1="130.22" y1="503" x2="130.22" y2="504.5" stroke="#bbb" stroke-width="0.8"/>
<line x1="142.5" y1="503" x2="142.5" y2="504.5" stroke="#bbb" stroke-width="0.8"/>
<line x1="154.76" y1="503" x2="154.76" y2="504.5" stroke="#bbb" stroke-width="0.8"/>
<line x1="167.03" y1="503" x2="167.03" y2="504.5" stroke="#bbb" stroke-width="0.8"/>
<line x1="179.31" y1="503" x2="179.31" y2="504.5" stroke="#bbb" stroke-width="0.8"/>
<line x1="191.57" y1="503" x2="191.57" y2="504.5" stroke="#bbb" stroke-width="0.8"/>
<line x1="203.84" y1="503" x2="203.84" y2="504.5" stroke="#bbb" stroke-width="0.8"/>
<line x1="216.11" y1="503" x2="216.11" y2="504.5" stroke="#bbb" stroke-width="0.8"/>
<line x1="228.38" y1="503" x2="228.38" y2="504.5" stroke="#bbb" stroke-width="0.8"/>
<line x1="240.66" y1="503" x2="240.66" y2="504.5" stroke="#bbb" stroke-width="0.8"/>
<line x1="252.92" y1="503" x2="252.92" y2="504.5" stroke="#bbb" stroke-width="0.8"/>
<line x1="265.19" y1="503" x2="265.19" y2="504.5" stroke="#bbb" stroke-width="0.8"/>
<line x1="277.46" y1="503" x2="277.46" y2="504.5" stroke="#bbb" stroke-width="0.8"/>
<line x1="289.74" y1="503" x2="289.74" y2="504.5" stroke="#bbb" stroke-width="0.8"/>
<line x1="302" y1="503" x2="302" y2="504.5" stroke="#bbb" stroke-width="0.8"/>
<line x1="314.27" y1="503" x2="314.27" y2="504.5" stroke="#bbb" stroke-width="0.8"/>
<line x1="326.55" y1="503" x2="326.55" y2="504.5" stroke="#bbb" stroke-width="0.8"/>
<line x1="338.81" y1="503" x2="338.81" y2="504.5" stroke="#bbb" stroke-width="0.8"/>
<line x1="351.08" y1="503" x2="351.08" y2="504.5" stroke="#bbb" stroke-width="0.8"/>
<line x1="363.35" y1="503" x2="363.35" y2="504.5" stroke="#bbb" stroke-width="0.8"/>
<line x1="375.62" y1="503" x2="375.62" y2="504.5" stroke="#bbb" stroke-width="0.8"/>
<line x1="387.89" y1="503" x2="387.89" y2="504.5" stroke="#bbb" stroke-width="0.8"/>
<line x1="400.16" y1="503" x2="400.16" y2="504.5" stroke="#bbb" stroke-width="0.8"/>
<line x1="412.44" y1="503" x2="412.44" y2="504.5" stroke="#bbb" stroke-width="0.8"/>
<line x1="424.7" y1="503" x2="424.7" y2="504.5" stroke="#bbb" stroke-width="0.8"/>
<line x1="436.97" y1="503" x2="436.97" y2="504.5" stroke="#bbb" stroke-width="0.8"/>
<line x1="449.25" y1="503" x2="449.25" y2="504.5" stroke="#bbb" stroke-width="0.8"/>
<line x1="461.51" y1="503" x2="461.51" y2="504.5" stroke="#bbb" stroke-width="0.8"/>
<line x1="470.4" y1="456.5" x2="483.5" y2="456.5" stroke="#c4c4c4" stroke-width="1"/><circle cx="477.1" cy="456.5" r="1.35" fill="#111"/>
<text x="487.4" y="460.2" font-size="9.3" font-weight="bold" fill="#1a1a1a" class="h">FL</text>
<line x1="470.4" y1="473.5" x2="483.5" y2="473.5" stroke="#cfcfcf" stroke-width="1"/><rect x="475.75" y="472.3" width="2.7" height="2.4" fill="#8a8a8a"/>
<text x="485.7" y="476.4" font-size="9.3" font-weight="bold" fill="#1a1a1a" class="h">DLBCL</text>
</svg></body></html>
